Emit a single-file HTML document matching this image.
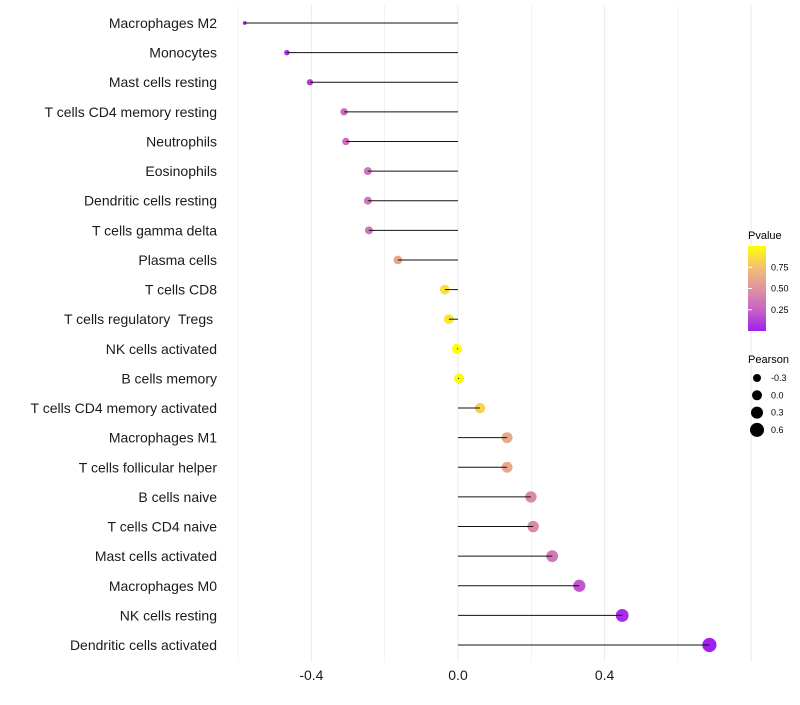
<!DOCTYPE html>
<html><head><meta charset="utf-8"><style>
body{margin:0;background:#fff;font-family:"Liberation Sans",sans-serif}
svg text{font-family:"Liberation Sans",sans-serif;white-space:pre}
</style></head><body>
<svg id="chart" width="800" height="700">
<defs><linearGradient id="pg" x1="0" y1="1" x2="0" y2="0">
<stop offset="0" stop-color="#a020f0"/><stop offset="0.25" stop-color="#c763c6"/>
<stop offset="0.5" stop-color="#df93a0"/><stop offset="0.75" stop-color="#f2c074"/>
<stop offset="1" stop-color="#ffff00"/></linearGradient></defs>
<g id="grid"></g>
<g id="points"></g>
<g id="marks"></g>
<g id="axes"></g>
<g>
<text x="748" y="239" font-size="11">Pvalue</text>
<rect x="748" y="246" width="18" height="85" fill="url(#pg)"/>
<g id="cbticks"></g>
</g>
<g id="sizeleg">
<text x="748" y="363" font-size="11">Pearson</text>
</g>
</svg>
<script>
const categories=["Macrophages M2","Monocytes","Mast cells resting","T cells CD4 memory resting","Neutrophils","Eosinophils","Dendritic cells resting","T cells gamma delta","Plasma cells","T cells CD8","T cells regulatory  Tregs ","NK cells activated","B cells memory","T cells CD4 memory activated","Macrophages M1","T cells follicular helper","B cells naive","T cells CD4 naive","Mast cells activated","Macrophages M0","NK cells resting","Dendritic cells activated"];
const pearson=[-0.582,-0.467,-0.404,-0.311,-0.306,-0.246,-0.246,-0.243,-0.164,-0.036,-0.025,-0.003,0.003,0.060,0.134,0.134,0.199,0.205,0.257,0.331,0.448,0.686];
const pvalue=[0.0,0.08,0.1,0.3,0.3,0.35,0.35,0.35,0.6,0.88,0.9,1.0,0.99,0.82,0.62,0.62,0.45,0.45,0.35,0.2,0.05,0.0];
const xTicks=[-0.4,0.0,0.4];
const cbTicks=[0.25,0.5,0.75];
const sizeBreaks=[-0.3,0.0,0.3,0.6];
const NS="http://www.w3.org/2000/svg";
const x=v=>458+v*366.5;
const y=i=>23+i*29.62;
const r=v=>Math.sqrt(Math.max(1.5,25+37*v));
const stops=[[0,[160,32,240]],[0.25,[199,99,198]],[0.5,[223,147,160]],[0.75,[242,192,116]],[1,[255,255,0]]];
function col(p){for(let k=1;k<stops.length;k++){if(p<=stops[k][0]){const a=stops[k-1],b=stops[k],t=(p-a[0])/(b[0]-a[0]);return "rgb("+a[1].map((c,j)=>Math.round(c+(b[1][j]-c)*t)).join(",")+")";}}return "rgb(255,255,0)";}
function mk(tag,at,parent){const e=document.createElementNS(NS,tag);for(const k in at)e.setAttribute(k,at[k]);document.getElementById(parent).appendChild(e);return e;}
for(let v=-0.6;v<=0.81;v+=0.2){const g=mk("line",{x1:x(v),x2:x(v),y1:5,y2:662,stroke:"#ebebeb","stroke-width":Math.abs(Math.round(v*10)%4)===0?1:0.6},"grid");

}
categories.forEach((c,i)=>{
const d=mk("circle",{cx:x(pearson[i]),cy:y(i),r:r(pearson[i]),fill:col(pvalue[i])},"points");


const s=mk("line",{x1:x(0),x2:x(pearson[i]),y1:y(i),y2:y(i),stroke:"#111","stroke-width":1},"marks");


const t=mk("text",{x:217,y:y(i)+5,"font-size":14,"text-anchor":"end",fill:"#1a1a1a"},"axes");
t.textContent=c;


});
xTicks.forEach(v=>{const t=mk("text",{x:x(v),y:680,"font-size":14,"text-anchor":"middle",fill:"#1a1a1a"},"axes");t.textContent=v.toFixed(1);

});
cbTicks.forEach(p=>{const yy=331-p*85;
const l=mk("line",{x1:748,x2:752,y1:yy,y2:yy,stroke:"#fff"},"cbticks");


const t=mk("text",{x:771,y:yy+3,"font-size":9},"cbticks");t.textContent=p.toFixed(2);

});
sizeBreaks.forEach((v,k)=>{const yy=378+k*17.3;
const c=mk("circle",{cx:757,cy:yy,r:5+v*10/3,fill:"#000"},"sizeleg");


const t=mk("text",{x:771,y:yy+3,"font-size":9},"sizeleg");t.textContent=v.toFixed(1);

});
</script>
</body></html>
